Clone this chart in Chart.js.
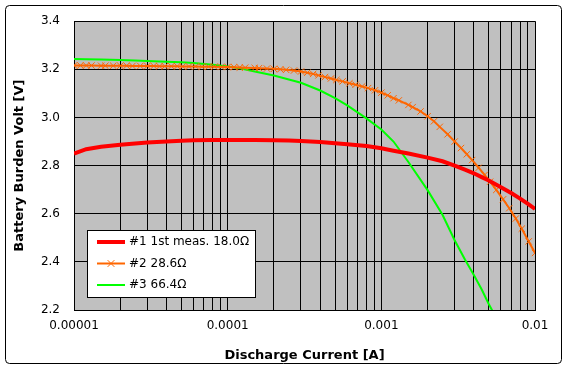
<!DOCTYPE html>
<html>
<head>
<meta charset="utf-8">
<script src="https://cdn.jsdelivr.net/npm/chart.js@4/dist/chart.umd.min.js"></script>
<style>
  html, body { margin: 0; padding: 0; background: #fff; }
  #wrap { width: 568px; height: 379px; position: relative; }
</style>
</head>
<body>
<div id="wrap"><canvas id="battery" width="568" height="379"></canvas></div>
<script>
// discharge current [A] for #1 and #3
const currents = [
    1e-5, 1.2e-5, 1.5e-5, 2e-5, 2.5e-5, 3e-5, 4e-5, 5e-5, 6e-5, 8e-5,
    1e-4, 1.2e-4, 1.5e-4, 2e-4, 2.5e-4, 3e-4, 4e-4, 5e-4, 6e-4, 8e-4,
    1e-3, 1.2e-3, 1.5e-3, 2e-3, 2.5e-3, 3e-3, 3.5e-3, 4e-3, 4.5e-3, 5e-3,
    6e-3, 7e-3, 8e-3, 9e-3, 1e-2
];

// burden voltage [V]
const volts1 = [
    2.850, 2.868, 2.878, 2.887, 2.892, 2.896, 2.900, 2.903, 2.905, 2.906,
    2.906, 2.906, 2.906, 2.905, 2.904, 2.902, 2.898, 2.893, 2.889, 2.881,
    2.872, 2.862, 2.850, 2.833, 2.818, 2.800, 2.783, 2.768, 2.752, 2.738,
    2.710, 2.686, 2.663, 2.641, 2.620
];
const volts3 = [
    3.243, 3.242, 3.241, 3.239, 3.237, 3.235, 3.232, 3.229, 3.226, 3.219,
    3.212, 3.204, 3.191, 3.174, 3.158, 3.144, 3.112, 3.080, 3.050, 2.996,
    2.950, 2.900, 2.815, 2.698, 2.596, 2.490, 2.410, 2.345, 2.285, 2.225,
    2.130, null, null, null, null
];

// #2 was measured on a denser current grid
const currents2 = [
    1.0e-5, 1.1e-5, 1.2e-5, 1.3e-5, 1.5e-5, 1.6e-5, 1.8e-5, 2.0e-5, 2.2e-5, 2.4e-5, 2.7e-5, 3.0e-5,
    3.3e-5, 3.6e-5, 3.9e-5, 4.3e-5, 4.7e-5, 5.1e-5, 5.6e-5, 6.2e-5, 6.8e-5, 7.5e-5, 8.2e-5, 9.1e-5,
    1.0e-4, 1.1e-4, 1.2e-4, 1.3e-4, 1.5e-4, 1.6e-4, 1.8e-4, 2.0e-4, 2.2e-4, 2.4e-4, 2.7e-4, 3.0e-4,
    3.3e-4, 3.6e-4, 3.9e-4, 4.3e-4, 4.7e-4, 5.1e-4, 5.6e-4, 6.2e-4, 6.8e-4, 7.5e-4, 8.2e-4, 9.1e-4,
    1.0e-3, 1.1e-3, 1.2e-3, 1.3e-3, 1.5e-3, 1.6e-3, 1.8e-3, 2.0e-3, 2.2e-3, 2.4e-3, 2.7e-3, 3.0e-3,
    3.3e-3, 3.6e-3, 3.9e-3, 4.3e-3, 4.7e-3, 5.1e-3, 5.6e-3, 6.2e-3, 6.8e-3, 7.5e-3, 8.2e-3, 9.1e-3,
    1.0e-2
];
const volts2 = [
    3.216, 3.216, 3.216, 3.216, 3.215, 3.215, 3.215, 3.215, 3.215, 3.214, 3.214, 3.214,
    3.214, 3.213, 3.213, 3.213, 3.213, 3.212, 3.212, 3.212, 3.211, 3.211, 3.211, 3.210,
    3.210, 3.209, 3.208, 3.207, 3.206, 3.205, 3.203, 3.202, 3.200, 3.198, 3.195, 3.191,
    3.186, 3.181, 3.175, 3.168, 3.162, 3.156, 3.150, 3.142, 3.136, 3.129, 3.122, 3.113,
    3.103, 3.092, 3.080, 3.071, 3.052, 3.043, 3.025, 3.005, 2.984, 2.961, 2.930, 2.900,
    2.873, 2.847, 2.823, 2.791, 2.761, 2.733, 2.699, 2.660, 2.623, 2.580, 2.538, 2.485,
    2.437
];

const seriesNames = ["#1 1st meas. 18.0Ω", "#2 28.6Ω", "#3 66.4Ω"];
const xTickLabels = ["0.00001", "0.0001", "0.001", "0.01"];
const decades = [1e-5, 1e-4, 1e-3, 1e-2];

function points(xs, ys) {
    return xs.map((c, i) => ({ x: c, y: ys[i] }));
}

const FONT = "'DejaVu Sans', sans-serif";

// gray plot area + outer rounded frame
const background = {
    id: "background",
    beforeDraw(chart) {
        const ctx = chart.ctx;
        const a = chart.chartArea;
        ctx.save();
        ctx.fillStyle = "#c0c0c0";
        ctx.fillRect(a.left, a.top, a.right - a.left, a.bottom - a.top);
        ctx.strokeStyle = "#000";
        ctx.lineWidth = 1;
        ctx.beginPath();
        ctx.roundRect(5.5, 5.5, 556, 358, 4);
        ctx.stroke();
        ctx.restore();
    }
};

// legend box inside the plot
const innerLegend = {
    id: "innerLegend",
    afterDraw(chart) {
        const ctx = chart.ctx;
        const x0 = 87, y0 = 230, w = 168, h = 67;
        ctx.save();
        ctx.fillStyle = "#fff";
        ctx.fillRect(x0, y0, w, h);
        ctx.strokeStyle = "#000";
        ctx.lineWidth = 1;
        ctx.strokeRect(x0 + 0.5, y0 + 0.5, w, h);
        ctx.font = "12px " + FONT;
        ctx.textBaseline = "middle";
        chart.data.datasets.forEach((ds, i) => {
            const y = y0 + 12 + i * 21.5;
            ctx.strokeStyle = ds.borderColor;
            ctx.lineWidth = ds.borderWidth;
            ctx.beginPath();
            ctx.moveTo(x0 + 10, y);
            ctx.lineTo(x0 + 38, y);
            ctx.stroke();
            if (ds.pointRadius > 0) {
                const r = ds.pointRadius;
                ctx.lineWidth = 1;
                ctx.beginPath();
                ctx.moveTo(x0 + 24 - r * 0.75, y - r * 0.75);
                ctx.lineTo(x0 + 24 + r * 0.75, y + r * 0.75);
                ctx.moveTo(x0 + 24 - r * 0.75, y + r * 0.75);
                ctx.lineTo(x0 + 24 + r * 0.75, y - r * 0.75);
                ctx.stroke();
            }
            ctx.fillStyle = "#000";
            ctx.fillText(ds.label, x0 + 42, y);
        });
        ctx.restore();
    }
};

new Chart(document.getElementById("battery"), {
    type: "line",
    data: {
        datasets: [
            {
                label: seriesNames[0],
                data: points(currents, volts1),
                borderColor: "#ff0000",
                borderWidth: 4,
                pointRadius: 0,
                tension: 0
            },
            {
                label: seriesNames[1],
                data: points(currents2, volts2),
                borderColor: "#ff6600",
                borderWidth: 2,
                pointStyle: "crossRot",
                pointRadius: 4.5,
                pointBorderWidth: 1,
                pointBorderColor: "#ff6600",
                pointBackgroundColor: "#ff6600",
                tension: 0
            },
            {
                label: seriesNames[2],
                data: points(currents, volts3),
                borderColor: "#00ff00",
                borderWidth: 2,
                pointRadius: 0,
                tension: 0
            }
        ]
    },
    options: {
        responsive: false,
        animation: false,
        devicePixelRatio: 1,
        layout: { padding: { left: 0, top: 16, right: 33, bottom: 16 } },
        plugins: {
            legend: { display: false },
            tooltip: { enabled: false }
        },
        scales: {
            x: {
                type: "logarithmic",
                min: 1e-5,
                max: 1e-2,
                afterFit(scale) { scale.height = 53; },
                afterBuildTicks(scale) {
                    const t = [];
                    decades.forEach((d, k) => {
                        const n = k < decades.length - 1 ? 9 : 1;
                        for (let m = 1; m <= n; m++) t.push({ value: d * m });
                    });
                    scale.ticks = t;
                },
                grid: { color: "#000", lineWidth: 1, drawTicks: false },
                border: { color: "#000", width: 1 },
                ticks: {
                    autoSkip: false,
                    maxRotation: 0,
                    padding: 9,
                    color: "#000",
                    font: { family: FONT, size: 12 },
                    callback(v) {
                        const i = decades.findIndex(d => Math.abs(v / d - 1) < 1e-6);
                        return i >= 0 ? xTickLabels[i] : "";
                    }
                },
                title: {
                    display: true,
                    text: "Discharge Current [A]",
                    color: "#000",
                    padding: 0,
                    font: { family: FONT, size: 13, weight: "bold" }
                }
            },
            y: {
                min: 2.2,
                max: 3.4,
                afterFit(scale) { scale.width = 74; },
                grid: { color: "#000", lineWidth: 1, drawTicks: false },
                border: { color: "#000", width: 1 },
                ticks: {
                    stepSize: 0.2,
                    padding: 14,
                    color: "#000",
                    font: { family: FONT, size: 12 },
                    callback: v => v.toFixed(1)
                },
                title: {
                    display: true,
                    text: "Battery Burden Volt [V]",
                    color: "#000",
                    padding: { top: 12, bottom: 0 },
                    font: { family: FONT, size: 13, weight: "bold" }
                }
            }
        }
    },
    plugins: [background, innerLegend]
});
</script>
</body>
</html>
